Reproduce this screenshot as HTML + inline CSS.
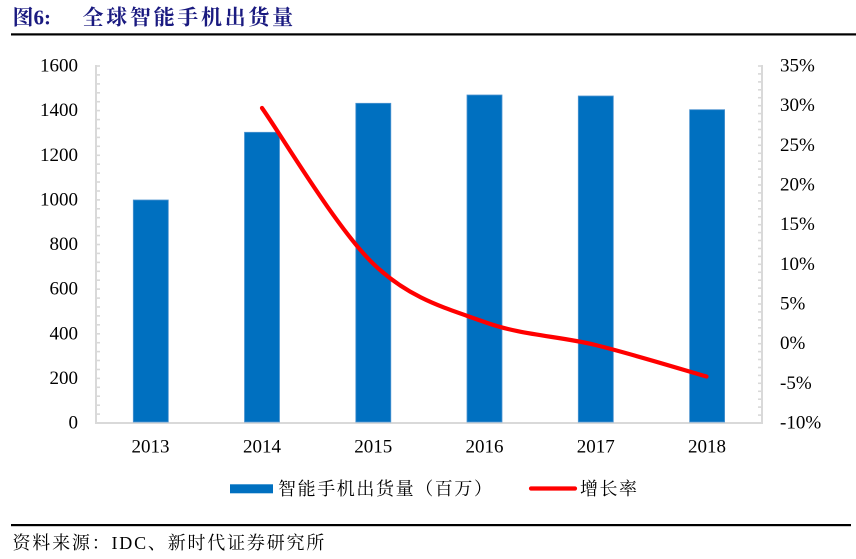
<!DOCTYPE html>
<html><head><meta charset="utf-8"><style>
html,body{margin:0;padding:0;background:#fff;}
svg{display:block;}
</style></head><body>
<svg width="856" height="559" viewBox="0 0 856 559" xmlns="http://www.w3.org/2000/svg">
<rect width="856" height="559" fill="#fff"/>
<!-- title -->
<text x="12.5" y="17.5" dominant-baseline="central" font-family="Liberation Serif, Noto Serif CJK SC, serif" font-weight="bold" font-size="21" fill="#1a1a80">图6:</text>
<text x="82.5" y="17.5" dominant-baseline="central" font-family="Liberation Serif, Noto Serif CJK SC, serif" font-weight="bold" font-size="21" letter-spacing="2.7" fill="#1a1a80">全球智能手机出货量</text>
<rect x="11" y="33.3" width="845" height="2.2" fill="#000"/>

<!-- axes -->
<g stroke="#d9d9d9" stroke-width="2" fill="none">
<line x1="96" y1="65" x2="96" y2="423"/>
<line x1="762" y1="65" x2="762" y2="423"/>
<line x1="95" y1="423" x2="763" y2="423"/>
</g>
<g stroke="#d9d9d9" stroke-width="1.6">
<!-- left ticks -->
<line x1="96" x2="100" y1="66" y2="66"/><line x1="96" x2="100" y1="74.9" y2="74.9"/><line x1="96" x2="100" y1="83.9" y2="83.9"/><line x1="96" x2="100" y1="92.8" y2="92.8"/><line x1="96" x2="100" y1="101.7" y2="101.7"/>
<line x1="96" x2="100" y1="110.6" y2="110.6"/><line x1="96" x2="100" y1="119.6" y2="119.6"/><line x1="96" x2="100" y1="128.5" y2="128.5"/><line x1="96" x2="100" y1="137.4" y2="137.4"/><line x1="96" x2="100" y1="146.3" y2="146.3"/>
<line x1="96" x2="100" y1="155.3" y2="155.3"/><line x1="96" x2="100" y1="164.2" y2="164.2"/><line x1="96" x2="100" y1="173.1" y2="173.1"/><line x1="96" x2="100" y1="182" y2="182"/><line x1="96" x2="100" y1="191" y2="191"/>
<line x1="96" x2="100" y1="199.9" y2="199.9"/><line x1="96" x2="100" y1="208.8" y2="208.8"/><line x1="96" x2="100" y1="217.7" y2="217.7"/><line x1="96" x2="100" y1="226.7" y2="226.7"/><line x1="96" x2="100" y1="235.6" y2="235.6"/>
<line x1="96" x2="100" y1="244.5" y2="244.5"/><line x1="96" x2="100" y1="253.4" y2="253.4"/><line x1="96" x2="100" y1="262.4" y2="262.4"/><line x1="96" x2="100" y1="271.3" y2="271.3"/><line x1="96" x2="100" y1="280.2" y2="280.2"/>
<line x1="96" x2="100" y1="289.1" y2="289.1"/><line x1="96" x2="100" y1="298.1" y2="298.1"/><line x1="96" x2="100" y1="307" y2="307"/><line x1="96" x2="100" y1="315.9" y2="315.9"/><line x1="96" x2="100" y1="324.8" y2="324.8"/>
<line x1="96" x2="100" y1="333.8" y2="333.8"/><line x1="96" x2="100" y1="342.7" y2="342.7"/><line x1="96" x2="100" y1="351.6" y2="351.6"/><line x1="96" x2="100" y1="360.5" y2="360.5"/><line x1="96" x2="100" y1="369.5" y2="369.5"/>
<line x1="96" x2="100" y1="378.4" y2="378.4"/><line x1="96" x2="100" y1="387.3" y2="387.3"/><line x1="96" x2="100" y1="396.2" y2="396.2"/><line x1="96" x2="100" y1="405.2" y2="405.2"/><line x1="96" x2="100" y1="414.1" y2="414.1"/>
<!-- right ticks -->
<line x1="758" x2="762" y1="66" y2="66"/><line x1="758" x2="762" y1="73.9" y2="73.9"/><line x1="758" x2="762" y1="81.9" y2="81.9"/><line x1="758" x2="762" y1="89.8" y2="89.8"/><line x1="758" x2="762" y1="97.7" y2="97.7"/>
<line x1="758" x2="762" y1="105.7" y2="105.7"/><line x1="758" x2="762" y1="113.6" y2="113.6"/><line x1="758" x2="762" y1="121.5" y2="121.5"/><line x1="758" x2="762" y1="129.5" y2="129.5"/><line x1="758" x2="762" y1="137.4" y2="137.4"/>
<line x1="758" x2="762" y1="145.3" y2="145.3"/><line x1="758" x2="762" y1="153.3" y2="153.3"/><line x1="758" x2="762" y1="161.2" y2="161.2"/><line x1="758" x2="762" y1="169.1" y2="169.1"/><line x1="758" x2="762" y1="177.1" y2="177.1"/>
<line x1="758" x2="762" y1="185" y2="185"/><line x1="758" x2="762" y1="192.9" y2="192.9"/><line x1="758" x2="762" y1="200.9" y2="200.9"/><line x1="758" x2="762" y1="208.8" y2="208.8"/><line x1="758" x2="762" y1="216.7" y2="216.7"/>
<line x1="758" x2="762" y1="224.7" y2="224.7"/><line x1="758" x2="762" y1="232.6" y2="232.6"/><line x1="758" x2="762" y1="240.5" y2="240.5"/><line x1="758" x2="762" y1="248.5" y2="248.5"/><line x1="758" x2="762" y1="256.4" y2="256.4"/>
<line x1="758" x2="762" y1="264.3" y2="264.3"/><line x1="758" x2="762" y1="272.3" y2="272.3"/><line x1="758" x2="762" y1="280.2" y2="280.2"/><line x1="758" x2="762" y1="288.1" y2="288.1"/><line x1="758" x2="762" y1="296.1" y2="296.1"/>
<line x1="758" x2="762" y1="304" y2="304"/><line x1="758" x2="762" y1="311.9" y2="311.9"/><line x1="758" x2="762" y1="319.9" y2="319.9"/><line x1="758" x2="762" y1="327.8" y2="327.8"/><line x1="758" x2="762" y1="335.7" y2="335.7"/>
<line x1="758" x2="762" y1="343.7" y2="343.7"/><line x1="758" x2="762" y1="351.6" y2="351.6"/><line x1="758" x2="762" y1="359.5" y2="359.5"/><line x1="758" x2="762" y1="367.5" y2="367.5"/><line x1="758" x2="762" y1="375.4" y2="375.4"/>
<line x1="758" x2="762" y1="383.3" y2="383.3"/><line x1="758" x2="762" y1="391.3" y2="391.3"/><line x1="758" x2="762" y1="399.2" y2="399.2"/><line x1="758" x2="762" y1="407.1" y2="407.1"/><line x1="758" x2="762" y1="415.1" y2="415.1"/>
</g>

<!-- bars -->
<g fill="#0070C0" stroke="#4f95d0" stroke-width="0.8">
<rect x="133.3" y="200" width="35" height="222"/>
<rect x="244.5" y="132.3" width="35" height="289.7"/>
<rect x="355.8" y="103.3" width="35" height="318.7"/>
<rect x="467" y="95" width="35" height="327"/>
<rect x="578.3" y="96" width="35" height="326"/>
<rect x="689.6" y="109.7" width="35" height="312.3"/>
</g>

<!-- growth line -->
<path d="M262,108 C280.6,134 336.4,228.3 373.5,264 C410.6,299.7 447.5,308.5 484.5,322 C521.5,335.5 558.5,335.9 595.5,345 C632.5,354.1 688,371.25 706.5,376.5" fill="none" stroke="#FF0000" stroke-width="4.2" stroke-linecap="round" stroke-linejoin="round"/>

<!-- left labels -->
<g font-family="Liberation Serif, serif" font-size="19" fill="#000" text-anchor="end" dominant-baseline="central">
<text x="78" y="66">1600</text>
<text x="78" y="110.6">1400</text>
<text x="78" y="155.3">1200</text>
<text x="78" y="199.9">1000</text>
<text x="78" y="244.5">800</text>
<text x="78" y="289.1">600</text>
<text x="78" y="333.8">400</text>
<text x="78" y="378.4">200</text>
<text x="78" y="423">0</text>
</g>
<!-- right labels -->
<g font-family="Liberation Serif, serif" font-size="19" fill="#000" text-anchor="start" dominant-baseline="central">
<text x="780" y="66">35%</text>
<text x="780" y="105.7">30%</text>
<text x="780" y="145.3">25%</text>
<text x="780" y="185">20%</text>
<text x="780" y="224.7">15%</text>
<text x="780" y="264.3">10%</text>
<text x="780" y="304">5%</text>
<text x="780" y="343.7">0%</text>
<text x="780" y="383.3">-5%</text>
<text x="780" y="423">-10%</text>
</g>
<!-- x labels -->
<g font-family="Liberation Serif, serif" font-size="19" fill="#000" text-anchor="middle">
<text x="150.5" y="452.5">2013</text>
<text x="262" y="452.5">2014</text>
<text x="373.3" y="452.5">2015</text>
<text x="484.5" y="452.5">2016</text>
<text x="595.8" y="452.5">2017</text>
<text x="707" y="452.5">2018</text>
</g>

<!-- legend -->
<rect x="230" y="484.3" width="43" height="9" fill="#0070C0"/>
<text x="278" y="489" dominant-baseline="central" font-family="Liberation Serif, Noto Serif CJK SC, serif" font-size="18" letter-spacing="1.6" fill="#000">智能手机出货量（百万）</text>
<line x1="531" y1="488.5" x2="575" y2="488.5" stroke="#FF0000" stroke-width="4.2" stroke-linecap="round"/>
<text x="580" y="489" dominant-baseline="central" font-family="Liberation Serif, Noto Serif CJK SC, serif" font-size="18" letter-spacing="1.5" fill="#000">增长率</text>

<!-- footer -->
<rect x="11" y="524" width="840" height="2.2" fill="#000"/>
<text x="12.5" y="543" dominant-baseline="central" font-family="Liberation Serif, Noto Serif CJK SC, serif" font-size="18" letter-spacing="1.8" fill="#000">资料来源：IDC、新时代证券研究所</text>
</svg>
</body></html>
